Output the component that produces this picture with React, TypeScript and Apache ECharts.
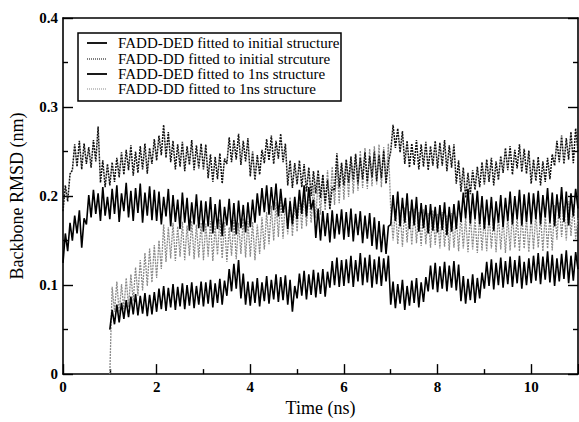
import React, { useEffect, useRef } from "react";
import * as echarts from "echarts";

const STEP = 0.05;

const seriesNames = [
  "FADD-DED fitted to initial structure",
  "FADD-DD fitted to initial strcuture",
  "FADD-DED fitted to 1ns structure",
  "FADD-DD fitted to 1ns structure",
];

// FADD-DED fitted to initial structure, t = 0 .. 11 ns, every 0.05 ns
const dedInitial = [
  0.125,0.158,0.138,0.170,0.150,0.178,0.158,0.184,0.142,0.175,0.168,0.201,0.176,0.207,0.180,0.203,0.172,0.210,0.178,0.199,
  0.174,0.208,0.180,0.212,0.171,0.203,0.183,0.215,0.176,0.206,0.172,0.209,0.181,0.214,0.170,0.204,0.178,0.211,0.173,0.207,
  0.172,0.205,0.168,0.199,0.177,0.208,0.166,0.201,0.171,0.196,0.163,0.204,0.170,0.198,0.161,0.193,0.168,0.202,0.164,0.195,
  0.160,0.194,0.166,0.199,0.158,0.191,0.163,0.196,0.155,0.188,0.167,0.197,0.160,0.192,0.157,0.195,0.164,0.190,0.159,0.193,
  0.165,0.196,0.170,0.203,0.178,0.209,0.182,0.212,0.179,0.210,0.184,0.214,0.177,0.208,0.181,0.198,0.163,0.194,0.168,0.199,
  0.174,0.207,0.180,0.212,0.177,0.210,0.185,0.196,0.153,0.186,0.150,0.183,0.155,0.181,0.148,0.184,0.152,0.180,0.157,0.185,
  0.151,0.182,0.154,0.186,0.149,0.180,0.156,0.183,0.147,0.178,0.152,0.181,0.144,0.176,0.140,0.172,0.137,0.168,0.135,0.166,
  0.168,0.201,0.172,0.205,0.166,0.198,0.170,0.203,0.163,0.196,0.167,0.199,0.160,0.192,0.164,0.190,0.158,0.191,0.161,0.188,
  0.159,0.190,0.162,0.193,0.156,0.188,0.160,0.191,0.163,0.195,0.171,0.204,0.175,0.208,0.169,0.203,0.174,0.206,0.168,0.200,
  0.163,0.196,0.167,0.199,0.161,0.194,0.170,0.201,0.165,0.198,0.172,0.205,0.168,0.200,0.174,0.207,0.167,0.202,0.171,0.204,
  0.169,0.203,0.174,0.206,0.168,0.201,0.176,0.209,0.170,0.204,0.166,0.202,0.175,0.210,0.171,0.205,0.167,0.203,0.177,0.208,
  0.186,
];

// FADD-DD fitted to initial structure, t = 0 .. 11 ns
const ddInitial = [
  0.183,0.212,0.194,0.225,0.229,0.258,0.233,0.262,0.230,0.259,0.236,0.255,0.232,0.263,0.239,0.278,0.215,0.240,0.210,0.236,
  0.212,0.238,0.216,0.243,0.221,0.249,0.224,0.252,0.229,0.257,0.223,0.250,0.226,0.256,0.230,0.259,0.225,0.254,0.236,0.264,
  0.240,0.268,0.246,0.280,0.243,0.272,0.238,0.262,0.230,0.258,0.233,0.261,0.228,0.256,0.235,0.263,0.229,0.257,0.231,0.259,
  0.230,0.258,0.220,0.247,0.216,0.244,0.219,0.248,0.214,0.242,0.236,0.266,0.238,0.263,0.241,0.270,0.235,0.262,0.239,0.265,
  0.222,0.250,0.218,0.246,0.224,0.252,0.237,0.264,0.240,0.268,0.236,0.262,0.242,0.270,0.238,0.259,0.212,0.240,0.209,0.237,
  0.213,0.240,0.210,0.236,0.205,0.232,0.200,0.228,0.203,0.229,0.198,0.224,0.192,0.218,0.185,0.210,0.206,0.248,0.210,0.237,
  0.212,0.241,0.215,0.244,0.218,0.247,0.214,0.243,0.219,0.249,0.216,0.245,0.221,0.250,0.217,0.246,0.220,0.251,0.214,0.238,
  0.250,0.280,0.254,0.276,0.249,0.273,0.236,0.262,0.232,0.259,0.235,0.263,0.230,0.258,0.233,0.261,0.229,0.256,0.234,0.262,
  0.231,0.260,0.234,0.263,0.228,0.257,0.232,0.258,0.214,0.240,0.205,0.232,0.198,0.226,0.202,0.229,0.207,0.233,0.210,0.238,
  0.213,0.241,0.216,0.243,0.212,0.239,0.218,0.245,0.226,0.254,0.229,0.256,0.224,0.252,0.231,0.258,0.227,0.253,0.225,0.251,
  0.214,0.241,0.217,0.244,0.212,0.239,0.216,0.243,0.219,0.247,0.234,0.262,0.238,0.268,0.236,0.265,0.241,0.272,0.237,0.276,
  0.250,
];

// FADD-DED fitted to 1ns structure, t = 1 .. 11 ns
const ded1ns = [
  0.050,0.072,0.056,0.078,0.058,0.080,0.062,0.083,0.064,0.087,0.067,0.090,0.066,0.088,0.068,0.091,0.065,0.089,0.067,0.092,
  0.070,0.096,0.073,0.099,0.071,0.097,0.075,0.101,0.072,0.098,0.076,0.102,0.073,0.100,0.077,0.103,0.074,0.099,0.078,0.104,
  0.076,0.103,0.079,0.106,0.075,0.102,0.080,0.107,0.078,0.105,0.088,0.118,0.093,0.124,0.096,0.128,0.085,0.113,0.078,0.104,
  0.077,0.104,0.080,0.108,0.076,0.103,0.082,0.110,0.079,0.106,0.084,0.112,0.081,0.109,0.083,0.111,0.078,0.106,0.070,0.099,
  0.085,0.113,0.088,0.116,0.084,0.112,0.089,0.117,0.086,0.114,0.090,0.118,0.087,0.115,0.097,0.127,0.100,0.131,0.098,0.128,
  0.099,0.129,0.102,0.133,0.098,0.128,0.104,0.136,0.100,0.131,0.103,0.134,0.097,0.129,0.101,0.132,0.099,0.130,0.104,0.133,
  0.078,0.104,0.074,0.101,0.079,0.106,0.072,0.099,0.077,0.105,0.080,0.108,0.075,0.103,0.081,0.109,0.093,0.122,0.095,0.125,
  0.092,0.121,0.096,0.126,0.093,0.122,0.097,0.127,0.094,0.123,0.082,0.110,0.079,0.107,0.083,0.112,0.080,0.108,0.085,0.114,
  0.096,0.126,0.099,0.129,0.095,0.125,0.100,0.131,0.097,0.127,0.101,0.132,0.098,0.128,0.102,0.133,0.096,0.126,0.100,0.130,
  0.102,0.133,0.105,0.136,0.101,0.132,0.106,0.138,0.103,0.134,0.099,0.130,0.104,0.135,0.107,0.139,0.102,0.133,0.105,0.137,
  0.118,
];

// FADD-DD fitted to 1ns structure, t = 1 .. 11 ns
const dd1ns = [
  0.000,0.098,0.070,0.104,0.068,0.101,0.073,0.108,0.075,0.112,0.082,0.120,0.088,0.128,0.094,0.136,0.099,0.141,0.103,0.145,
  0.108,0.150,0.118,0.168,0.126,0.165,0.130,0.170,0.127,0.166,0.132,0.171,0.128,0.167,0.133,0.172,0.129,0.168,0.131,0.170,
  0.128,0.169,0.132,0.172,0.127,0.166,0.134,0.174,0.130,0.171,0.126,0.165,0.133,0.173,0.129,0.170,0.135,0.175,0.131,0.172,
  0.132,0.171,0.128,0.168,0.135,0.176,0.140,0.182,0.146,0.189,0.150,0.193,0.154,0.197,0.152,0.195,0.157,0.199,0.155,0.196,
  0.160,0.202,0.163,0.206,0.166,0.209,0.170,0.213,0.175,0.220,0.179,0.224,0.184,0.229,0.188,0.233,0.190,0.236,0.192,0.238,
  0.196,0.241,0.199,0.245,0.203,0.248,0.206,0.251,0.209,0.254,0.208,0.253,0.211,0.256,0.213,0.258,0.210,0.255,0.214,0.259,
  0.185,0.150,0.186,0.146,0.184,0.143,0.187,0.148,0.183,0.145,0.186,0.147,0.182,0.144,0.185,0.146,0.181,0.142,0.184,0.145,
  0.180,0.141,0.182,0.143,0.178,0.139,0.181,0.142,0.177,0.138,0.180,0.141,0.176,0.137,0.179,0.140,0.175,0.136,0.178,0.139,
  0.177,0.138,0.180,0.141,0.176,0.137,0.179,0.140,0.175,0.136,0.178,0.139,0.181,0.142,0.177,0.138,0.180,0.141,0.176,0.137,
  0.179,0.140,0.181,0.142,0.177,0.138,0.180,0.141,0.178,0.139,0.190,0.151,0.193,0.154,0.189,0.150,0.194,0.155,0.191,0.152,
  0.175,
];

const FONT = "Liberation Serif";

const seriesColors = ["#000", "#111", "#000", "#8a8a8a"];
const seriesDash: (number[] | null)[] = [null, [2, 1], null, [2, 1]];
const seriesWidth = [1.6, 1.5, 1.6, 1.3];

function pairs(values: number[], start: number) {
  return values.map((v, i) => [Number((start + i * STEP).toFixed(2)), v]);
}

export default function App() {
  const ref = useRef<HTMLDivElement>(null);
  useEffect(() => {
    if (!ref.current) return;
    const chart = echarts.init(ref.current, null, { renderer: "svg" });

    const legendX = 78;
    const legendY = 33;
    const rowY = [43, 59, 74, 89];
    const legendItems: any[] = [
      {
        type: "rect",
        shape: { x: legendX, y: legendY, width: 263, height: 68 },
        style: { fill: "#fff", stroke: "#000", lineWidth: 1.5 },
      },
    ];
    seriesNames.forEach((name, i) => {
      legendItems.push({
        type: "line",
        shape: { x1: 87, y1: rowY[i], x2: 107, y2: rowY[i] },
        style: {
          stroke: i === 1 ? "#000" : seriesColors[i],
          lineWidth: seriesDash[i] ? 1.2 : 1.8,
          lineDash: seriesDash[i] ? [1, 1] : null,
        },
      });
      legendItems.push({
        type: "text",
        x: 118,
        y: rowY[i],
        style: {
          text: name,
          fontFamily: FONT,
          fontSize: 15,
          fill: "#000",
          verticalAlign: "middle",
          align: "left",
        },
      });
    });

    const tickStyle = { color: "#000", width: 1.4 };
    chart.setOption({
      animation: false,
      backgroundColor: "#fff",
      textStyle: { fontFamily: FONT },
      grid: { left: 53, right: 1, top: 18, bottom: 35 },
      graphic: [{ type: "group", z: 100, children: legendItems }],
      xAxis: [
        {
          type: "value",
          min: 0,
          max: 11,
          interval: 2,
          axisLine: { show: true, lineStyle: { color: "#000", width: 1.6 } },
          splitLine: { show: false },
          axisTick: { show: true, inside: true, length: 10, lineStyle: tickStyle },
          minorTick: { show: true, splitNumber: 2, length: 5, lineStyle: tickStyle },
          axisLabel: {
            showMaxLabel: false,
            fontFamily: FONT,
            fontSize: 15,
            fontWeight: "bold",
            color: "#000",
            margin: 5,
          },
          name: "Time (ns)",
          nameLocation: "middle",
          nameGap: 17,
          nameTextStyle: { fontFamily: FONT, fontSize: 18, color: "#000" },
        },
        {
          type: "value",
          position: "top",
          min: 0,
          max: 11,
          interval: 2,
          axisLine: { show: true, onZero: false, lineStyle: { color: "#000", width: 1.6 } },
          splitLine: { show: false },
          axisTick: { show: false },
          axisLabel: { show: false },
        },
      ],
      yAxis: [
        {
          type: "value",
          min: 0,
          max: 0.4,
          interval: 0.1,
          axisLine: { show: true, lineStyle: { color: "#000", width: 1.6 } },
          splitLine: { show: false },
          axisTick: { show: true, inside: true, length: 10, lineStyle: tickStyle },
          minorTick: { show: true, splitNumber: 2, length: 5, lineStyle: tickStyle },
          axisLabel: {
            fontFamily: FONT,
            fontSize: 15,
            fontWeight: "bold",
            color: "#000",
            margin: 5,
          },
          name: "Backbone RMSD (nm)",
          nameLocation: "middle",
          nameGap: 37,
          nameTextStyle: { fontFamily: FONT, fontSize: 18, color: "#000" },
        },
        {
          type: "value",
          position: "right",
          min: 0,
          max: 0.4,
          interval: 0.1,
          axisLine: { show: true, onZero: false, lineStyle: { color: "#000", width: 1.6 } },
          splitLine: { show: false },
          axisTick: { show: true, inside: true, length: 10, lineStyle: tickStyle },
          minorTick: { show: true, splitNumber: 2, length: 5, lineStyle: tickStyle },
          axisLabel: { show: false },
        },
      ],
      series: [
        { data: pairs(dedInitial, 0) },
        { data: pairs(ddInitial, 0) },
        { data: pairs(ded1ns, 1) },
        { data: pairs(dd1ns, 1) },
      ].map((s, i) => ({
        name: seriesNames[i],
        type: "line",
        symbol: "none",
        data: s.data,
        z: i === 3 ? 1 : 2,
        lineStyle: {
          color: seriesColors[i],
          width: seriesWidth[i],
          type: seriesDash[i] || "solid",
        },
        itemStyle: { color: seriesColors[i] },
      })),
    });
    return () => chart.dispose();
  }, []);
  return (
    <div
      ref={ref}
      style={{ position: "fixed", left: 0, top: 0, width: 579, height: 422, background: "#fff" }}
    />
  );
}
